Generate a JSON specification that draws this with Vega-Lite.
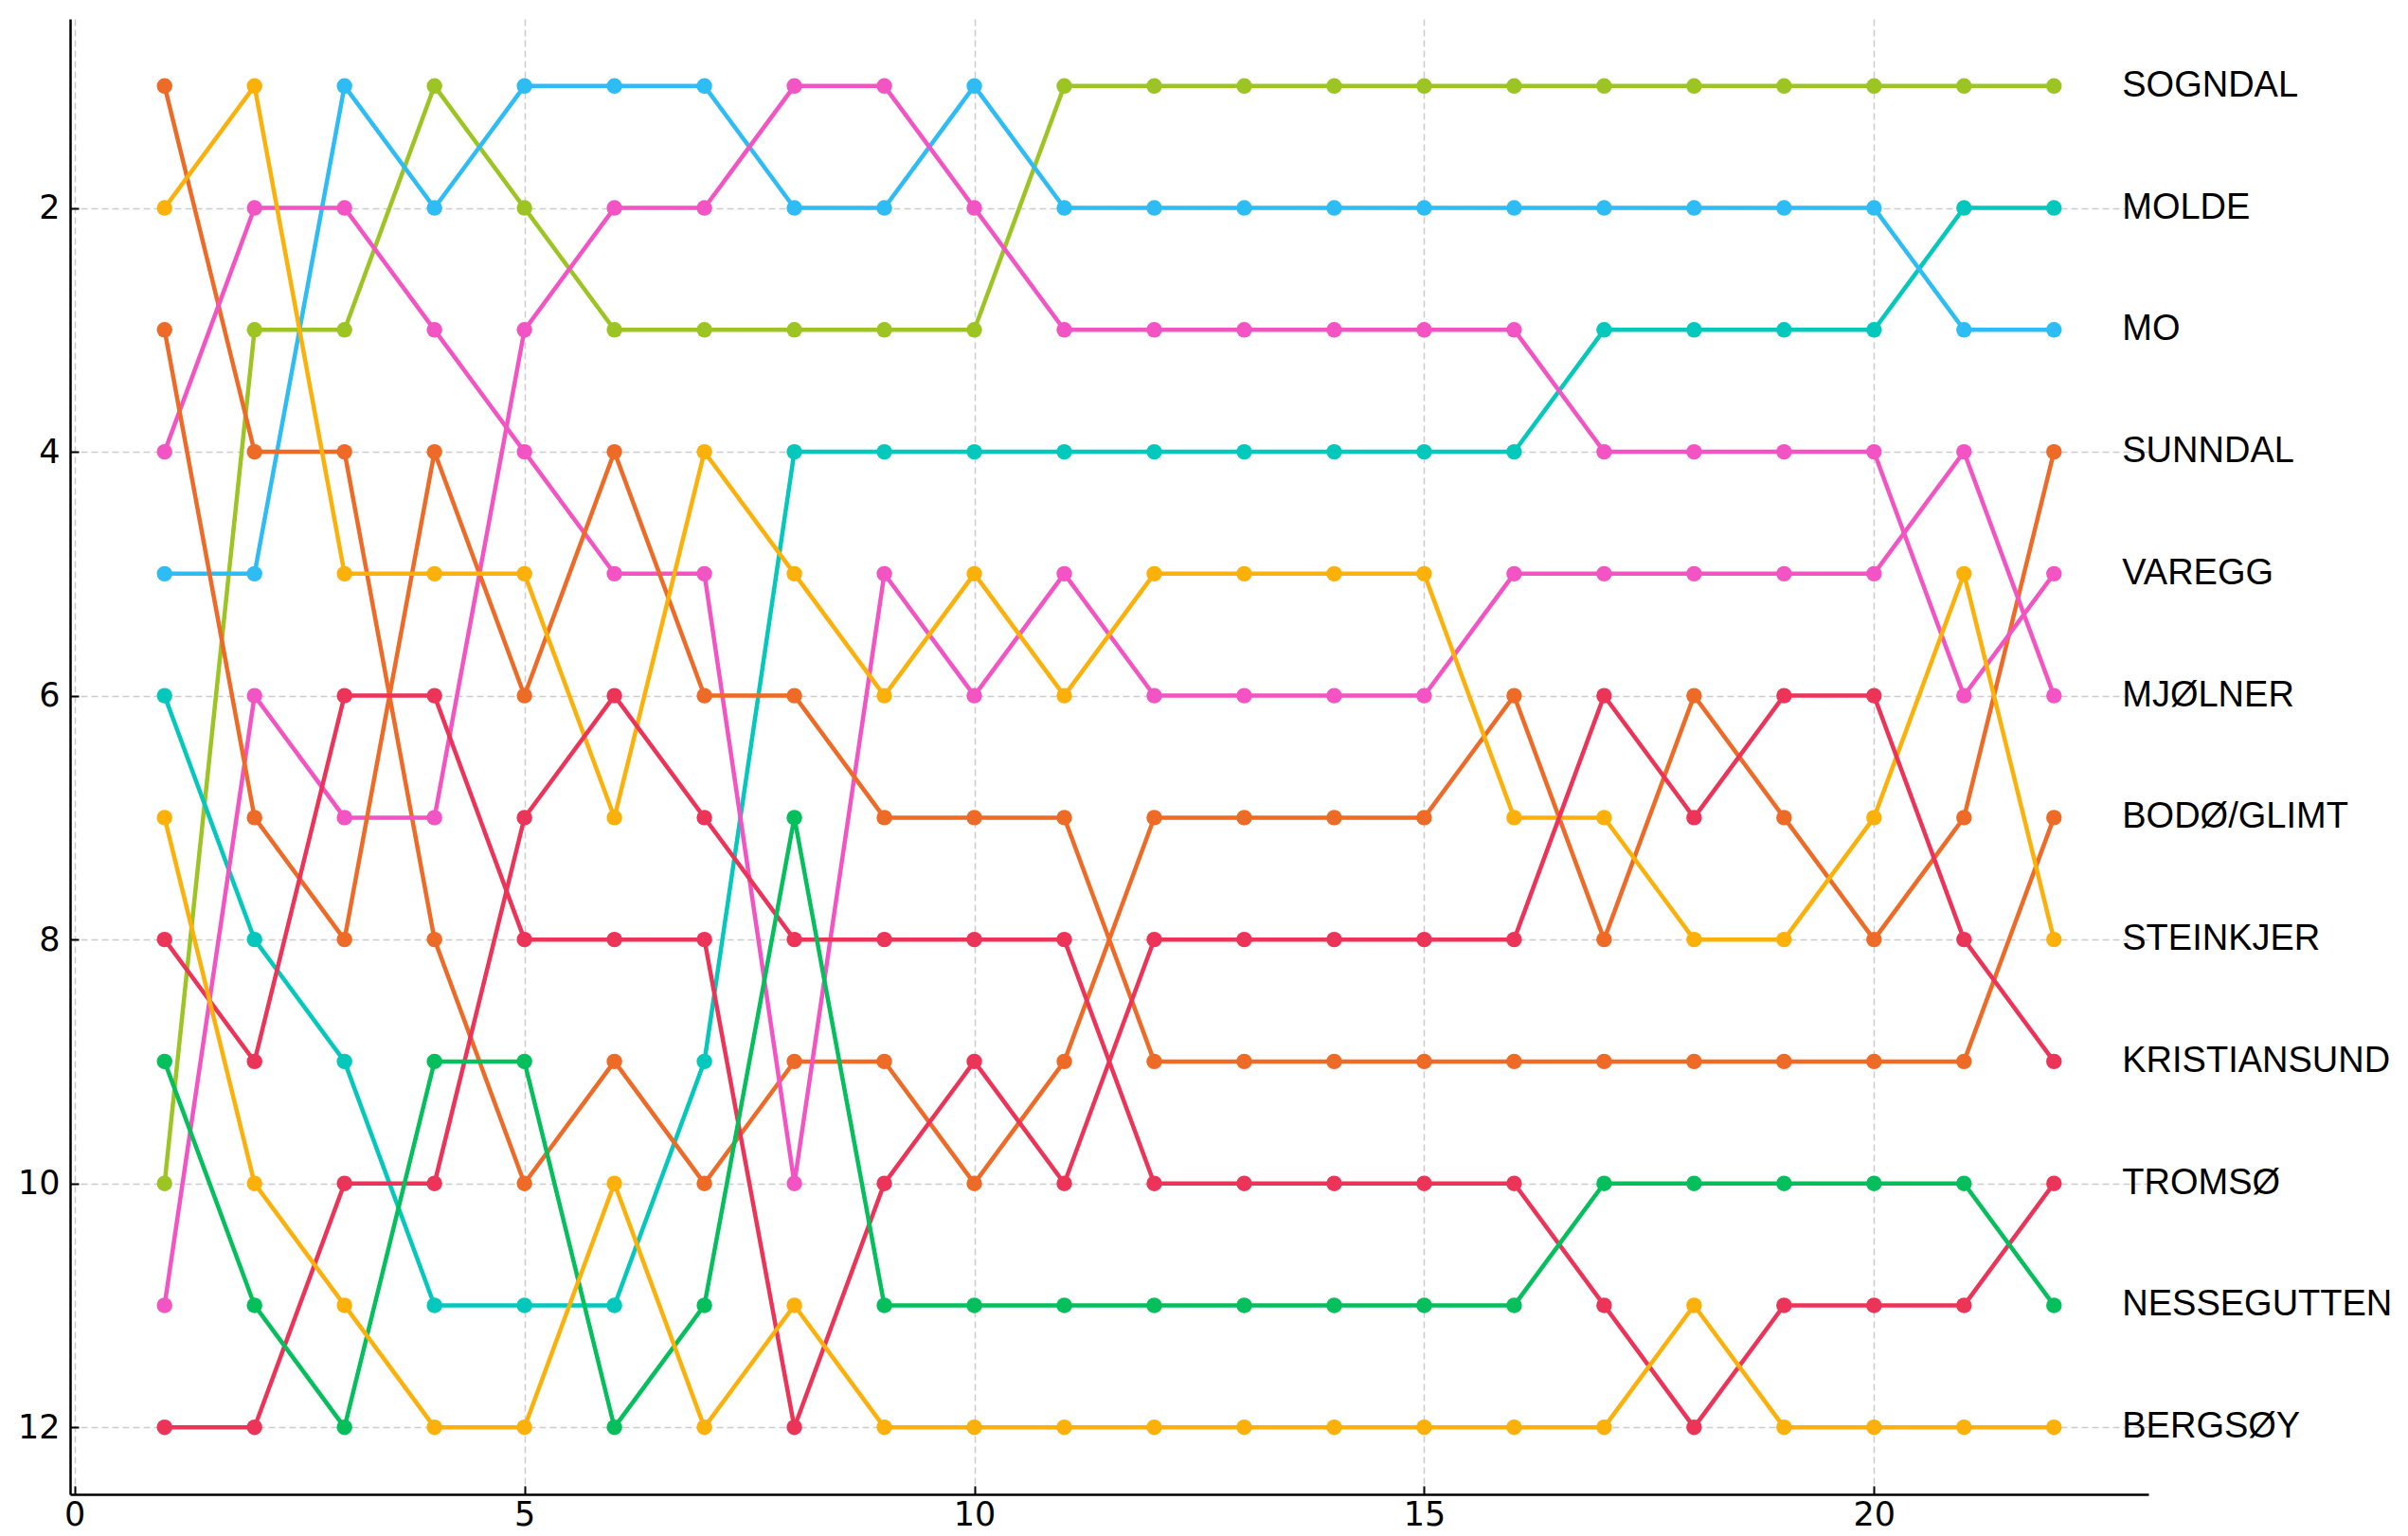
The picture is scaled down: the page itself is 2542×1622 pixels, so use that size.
{
  "$schema": "https://vega.github.io/schema/vega-lite/v6.json",
  "width": 2194,
  "height": 1558,
  "autosize": {"type": "none"},
  "padding": {"left": 74, "top": 20, "right": 274, "bottom": 44},
  "background": "white",
  "config": {"view": {"stroke": null}},
  "data": {
    "values": [
      {"team": "SOGNDAL", "round": 1, "rank": 10}, {"team": "SOGNDAL", "round": 2, "rank": 3}, {"team": "SOGNDAL", "round": 3, "rank": 3}, {"team": "SOGNDAL", "round": 4, "rank": 1}, {"team": "SOGNDAL", "round": 5, "rank": 2}, {"team": "SOGNDAL", "round": 6, "rank": 3}, {"team": "SOGNDAL", "round": 7, "rank": 3}, {"team": "SOGNDAL", "round": 8, "rank": 3}, {"team": "SOGNDAL", "round": 9, "rank": 3}, {"team": "SOGNDAL", "round": 10, "rank": 3}, {"team": "SOGNDAL", "round": 11, "rank": 1}, {"team": "SOGNDAL", "round": 12, "rank": 1}, {"team": "SOGNDAL", "round": 13, "rank": 1}, {"team": "SOGNDAL", "round": 14, "rank": 1}, {"team": "SOGNDAL", "round": 15, "rank": 1}, {"team": "SOGNDAL", "round": 16, "rank": 1}, {"team": "SOGNDAL", "round": 17, "rank": 1}, {"team": "SOGNDAL", "round": 18, "rank": 1}, {"team": "SOGNDAL", "round": 19, "rank": 1}, {"team": "SOGNDAL", "round": 20, "rank": 1}, {"team": "SOGNDAL", "round": 21, "rank": 1}, {"team": "SOGNDAL", "round": 22, "rank": 1},
      {"team": "MOLDE", "round": 1, "rank": 6}, {"team": "MOLDE", "round": 2, "rank": 8}, {"team": "MOLDE", "round": 3, "rank": 9}, {"team": "MOLDE", "round": 4, "rank": 11}, {"team": "MOLDE", "round": 5, "rank": 11}, {"team": "MOLDE", "round": 6, "rank": 11}, {"team": "MOLDE", "round": 7, "rank": 9}, {"team": "MOLDE", "round": 8, "rank": 4}, {"team": "MOLDE", "round": 9, "rank": 4}, {"team": "MOLDE", "round": 10, "rank": 4}, {"team": "MOLDE", "round": 11, "rank": 4}, {"team": "MOLDE", "round": 12, "rank": 4}, {"team": "MOLDE", "round": 13, "rank": 4}, {"team": "MOLDE", "round": 14, "rank": 4}, {"team": "MOLDE", "round": 15, "rank": 4}, {"team": "MOLDE", "round": 16, "rank": 4}, {"team": "MOLDE", "round": 17, "rank": 3}, {"team": "MOLDE", "round": 18, "rank": 3}, {"team": "MOLDE", "round": 19, "rank": 3}, {"team": "MOLDE", "round": 20, "rank": 3}, {"team": "MOLDE", "round": 21, "rank": 2}, {"team": "MOLDE", "round": 22, "rank": 2},
      {"team": "MO", "round": 1, "rank": 5}, {"team": "MO", "round": 2, "rank": 5}, {"team": "MO", "round": 3, "rank": 1}, {"team": "MO", "round": 4, "rank": 2}, {"team": "MO", "round": 5, "rank": 1}, {"team": "MO", "round": 6, "rank": 1}, {"team": "MO", "round": 7, "rank": 1}, {"team": "MO", "round": 8, "rank": 2}, {"team": "MO", "round": 9, "rank": 2}, {"team": "MO", "round": 10, "rank": 1}, {"team": "MO", "round": 11, "rank": 2}, {"team": "MO", "round": 12, "rank": 2}, {"team": "MO", "round": 13, "rank": 2}, {"team": "MO", "round": 14, "rank": 2}, {"team": "MO", "round": 15, "rank": 2}, {"team": "MO", "round": 16, "rank": 2}, {"team": "MO", "round": 17, "rank": 2}, {"team": "MO", "round": 18, "rank": 2}, {"team": "MO", "round": 19, "rank": 2}, {"team": "MO", "round": 20, "rank": 2}, {"team": "MO", "round": 21, "rank": 3}, {"team": "MO", "round": 22, "rank": 3},
      {"team": "SUNNDAL", "round": 1, "rank": 1}, {"team": "SUNNDAL", "round": 2, "rank": 4}, {"team": "SUNNDAL", "round": 3, "rank": 4}, {"team": "SUNNDAL", "round": 4, "rank": 8}, {"team": "SUNNDAL", "round": 5, "rank": 10}, {"team": "SUNNDAL", "round": 6, "rank": 9}, {"team": "SUNNDAL", "round": 7, "rank": 10}, {"team": "SUNNDAL", "round": 8, "rank": 9}, {"team": "SUNNDAL", "round": 9, "rank": 9}, {"team": "SUNNDAL", "round": 10, "rank": 10}, {"team": "SUNNDAL", "round": 11, "rank": 9}, {"team": "SUNNDAL", "round": 12, "rank": 7}, {"team": "SUNNDAL", "round": 13, "rank": 7}, {"team": "SUNNDAL", "round": 14, "rank": 7}, {"team": "SUNNDAL", "round": 15, "rank": 7}, {"team": "SUNNDAL", "round": 16, "rank": 6}, {"team": "SUNNDAL", "round": 17, "rank": 8}, {"team": "SUNNDAL", "round": 18, "rank": 6}, {"team": "SUNNDAL", "round": 19, "rank": 7}, {"team": "SUNNDAL", "round": 20, "rank": 8}, {"team": "SUNNDAL", "round": 21, "rank": 7}, {"team": "SUNNDAL", "round": 22, "rank": 4},
      {"team": "VAREGG", "round": 1, "rank": 11}, {"team": "VAREGG", "round": 2, "rank": 6}, {"team": "VAREGG", "round": 3, "rank": 7}, {"team": "VAREGG", "round": 4, "rank": 7}, {"team": "VAREGG", "round": 5, "rank": 3}, {"team": "VAREGG", "round": 6, "rank": 2}, {"team": "VAREGG", "round": 7, "rank": 2}, {"team": "VAREGG", "round": 8, "rank": 1}, {"team": "VAREGG", "round": 9, "rank": 1}, {"team": "VAREGG", "round": 10, "rank": 2}, {"team": "VAREGG", "round": 11, "rank": 3}, {"team": "VAREGG", "round": 12, "rank": 3}, {"team": "VAREGG", "round": 13, "rank": 3}, {"team": "VAREGG", "round": 14, "rank": 3}, {"team": "VAREGG", "round": 15, "rank": 3}, {"team": "VAREGG", "round": 16, "rank": 3}, {"team": "VAREGG", "round": 17, "rank": 4}, {"team": "VAREGG", "round": 18, "rank": 4}, {"team": "VAREGG", "round": 19, "rank": 4}, {"team": "VAREGG", "round": 20, "rank": 4}, {"team": "VAREGG", "round": 21, "rank": 6}, {"team": "VAREGG", "round": 22, "rank": 5},
      {"team": "MJØLNER", "round": 1, "rank": 4}, {"team": "MJØLNER", "round": 2, "rank": 2}, {"team": "MJØLNER", "round": 3, "rank": 2}, {"team": "MJØLNER", "round": 4, "rank": 3}, {"team": "MJØLNER", "round": 5, "rank": 4}, {"team": "MJØLNER", "round": 6, "rank": 5}, {"team": "MJØLNER", "round": 7, "rank": 5}, {"team": "MJØLNER", "round": 8, "rank": 10}, {"team": "MJØLNER", "round": 9, "rank": 5}, {"team": "MJØLNER", "round": 10, "rank": 6}, {"team": "MJØLNER", "round": 11, "rank": 5}, {"team": "MJØLNER", "round": 12, "rank": 6}, {"team": "MJØLNER", "round": 13, "rank": 6}, {"team": "MJØLNER", "round": 14, "rank": 6}, {"team": "MJØLNER", "round": 15, "rank": 6}, {"team": "MJØLNER", "round": 16, "rank": 5}, {"team": "MJØLNER", "round": 17, "rank": 5}, {"team": "MJØLNER", "round": 18, "rank": 5}, {"team": "MJØLNER", "round": 19, "rank": 5}, {"team": "MJØLNER", "round": 20, "rank": 5}, {"team": "MJØLNER", "round": 21, "rank": 4}, {"team": "MJØLNER", "round": 22, "rank": 6},
      {"team": "BODØ/GLIMT", "round": 1, "rank": 3}, {"team": "BODØ/GLIMT", "round": 2, "rank": 7}, {"team": "BODØ/GLIMT", "round": 3, "rank": 8}, {"team": "BODØ/GLIMT", "round": 4, "rank": 4}, {"team": "BODØ/GLIMT", "round": 5, "rank": 6}, {"team": "BODØ/GLIMT", "round": 6, "rank": 4}, {"team": "BODØ/GLIMT", "round": 7, "rank": 6}, {"team": "BODØ/GLIMT", "round": 8, "rank": 6}, {"team": "BODØ/GLIMT", "round": 9, "rank": 7}, {"team": "BODØ/GLIMT", "round": 10, "rank": 7}, {"team": "BODØ/GLIMT", "round": 11, "rank": 7}, {"team": "BODØ/GLIMT", "round": 12, "rank": 9}, {"team": "BODØ/GLIMT", "round": 13, "rank": 9}, {"team": "BODØ/GLIMT", "round": 14, "rank": 9}, {"team": "BODØ/GLIMT", "round": 15, "rank": 9}, {"team": "BODØ/GLIMT", "round": 16, "rank": 9}, {"team": "BODØ/GLIMT", "round": 17, "rank": 9}, {"team": "BODØ/GLIMT", "round": 18, "rank": 9}, {"team": "BODØ/GLIMT", "round": 19, "rank": 9}, {"team": "BODØ/GLIMT", "round": 20, "rank": 9}, {"team": "BODØ/GLIMT", "round": 21, "rank": 9}, {"team": "BODØ/GLIMT", "round": 22, "rank": 7},
      {"team": "STEINKJER", "round": 1, "rank": 2}, {"team": "STEINKJER", "round": 2, "rank": 1}, {"team": "STEINKJER", "round": 3, "rank": 5}, {"team": "STEINKJER", "round": 4, "rank": 5}, {"team": "STEINKJER", "round": 5, "rank": 5}, {"team": "STEINKJER", "round": 6, "rank": 7}, {"team": "STEINKJER", "round": 7, "rank": 4}, {"team": "STEINKJER", "round": 8, "rank": 5}, {"team": "STEINKJER", "round": 9, "rank": 6}, {"team": "STEINKJER", "round": 10, "rank": 5}, {"team": "STEINKJER", "round": 11, "rank": 6}, {"team": "STEINKJER", "round": 12, "rank": 5}, {"team": "STEINKJER", "round": 13, "rank": 5}, {"team": "STEINKJER", "round": 14, "rank": 5}, {"team": "STEINKJER", "round": 15, "rank": 5}, {"team": "STEINKJER", "round": 16, "rank": 7}, {"team": "STEINKJER", "round": 17, "rank": 7}, {"team": "STEINKJER", "round": 18, "rank": 8}, {"team": "STEINKJER", "round": 19, "rank": 8}, {"team": "STEINKJER", "round": 20, "rank": 7}, {"team": "STEINKJER", "round": 21, "rank": 5}, {"team": "STEINKJER", "round": 22, "rank": 8},
      {"team": "KRISTIANSUND", "round": 1, "rank": 8}, {"team": "KRISTIANSUND", "round": 2, "rank": 9}, {"team": "KRISTIANSUND", "round": 3, "rank": 6}, {"team": "KRISTIANSUND", "round": 4, "rank": 6}, {"team": "KRISTIANSUND", "round": 5, "rank": 8}, {"team": "KRISTIANSUND", "round": 6, "rank": 8}, {"team": "KRISTIANSUND", "round": 7, "rank": 8}, {"team": "KRISTIANSUND", "round": 8, "rank": 12}, {"team": "KRISTIANSUND", "round": 9, "rank": 10}, {"team": "KRISTIANSUND", "round": 10, "rank": 9}, {"team": "KRISTIANSUND", "round": 11, "rank": 10}, {"team": "KRISTIANSUND", "round": 12, "rank": 8}, {"team": "KRISTIANSUND", "round": 13, "rank": 8}, {"team": "KRISTIANSUND", "round": 14, "rank": 8}, {"team": "KRISTIANSUND", "round": 15, "rank": 8}, {"team": "KRISTIANSUND", "round": 16, "rank": 8}, {"team": "KRISTIANSUND", "round": 17, "rank": 6}, {"team": "KRISTIANSUND", "round": 18, "rank": 7}, {"team": "KRISTIANSUND", "round": 19, "rank": 6}, {"team": "KRISTIANSUND", "round": 20, "rank": 6}, {"team": "KRISTIANSUND", "round": 21, "rank": 8}, {"team": "KRISTIANSUND", "round": 22, "rank": 9},
      {"team": "TROMSØ", "round": 1, "rank": 12}, {"team": "TROMSØ", "round": 2, "rank": 12}, {"team": "TROMSØ", "round": 3, "rank": 10}, {"team": "TROMSØ", "round": 4, "rank": 10}, {"team": "TROMSØ", "round": 5, "rank": 7}, {"team": "TROMSØ", "round": 6, "rank": 6}, {"team": "TROMSØ", "round": 7, "rank": 7}, {"team": "TROMSØ", "round": 8, "rank": 8}, {"team": "TROMSØ", "round": 9, "rank": 8}, {"team": "TROMSØ", "round": 10, "rank": 8}, {"team": "TROMSØ", "round": 11, "rank": 8}, {"team": "TROMSØ", "round": 12, "rank": 10}, {"team": "TROMSØ", "round": 13, "rank": 10}, {"team": "TROMSØ", "round": 14, "rank": 10}, {"team": "TROMSØ", "round": 15, "rank": 10}, {"team": "TROMSØ", "round": 16, "rank": 10}, {"team": "TROMSØ", "round": 17, "rank": 11}, {"team": "TROMSØ", "round": 18, "rank": 12}, {"team": "TROMSØ", "round": 19, "rank": 11}, {"team": "TROMSØ", "round": 20, "rank": 11}, {"team": "TROMSØ", "round": 21, "rank": 11}, {"team": "TROMSØ", "round": 22, "rank": 10},
      {"team": "NESSEGUTTEN", "round": 1, "rank": 9}, {"team": "NESSEGUTTEN", "round": 2, "rank": 11}, {"team": "NESSEGUTTEN", "round": 3, "rank": 12}, {"team": "NESSEGUTTEN", "round": 4, "rank": 9}, {"team": "NESSEGUTTEN", "round": 5, "rank": 9}, {"team": "NESSEGUTTEN", "round": 6, "rank": 12}, {"team": "NESSEGUTTEN", "round": 7, "rank": 11}, {"team": "NESSEGUTTEN", "round": 8, "rank": 7}, {"team": "NESSEGUTTEN", "round": 9, "rank": 11}, {"team": "NESSEGUTTEN", "round": 10, "rank": 11}, {"team": "NESSEGUTTEN", "round": 11, "rank": 11}, {"team": "NESSEGUTTEN", "round": 12, "rank": 11}, {"team": "NESSEGUTTEN", "round": 13, "rank": 11}, {"team": "NESSEGUTTEN", "round": 14, "rank": 11}, {"team": "NESSEGUTTEN", "round": 15, "rank": 11}, {"team": "NESSEGUTTEN", "round": 16, "rank": 11}, {"team": "NESSEGUTTEN", "round": 17, "rank": 10}, {"team": "NESSEGUTTEN", "round": 18, "rank": 10}, {"team": "NESSEGUTTEN", "round": 19, "rank": 10}, {"team": "NESSEGUTTEN", "round": 20, "rank": 10}, {"team": "NESSEGUTTEN", "round": 21, "rank": 10}, {"team": "NESSEGUTTEN", "round": 22, "rank": 11},
      {"team": "BERGSØY", "round": 1, "rank": 7}, {"team": "BERGSØY", "round": 2, "rank": 10}, {"team": "BERGSØY", "round": 3, "rank": 11}, {"team": "BERGSØY", "round": 4, "rank": 12}, {"team": "BERGSØY", "round": 5, "rank": 12}, {"team": "BERGSØY", "round": 6, "rank": 10}, {"team": "BERGSØY", "round": 7, "rank": 12}, {"team": "BERGSØY", "round": 8, "rank": 11}, {"team": "BERGSØY", "round": 9, "rank": 12}, {"team": "BERGSØY", "round": 10, "rank": 12}, {"team": "BERGSØY", "round": 11, "rank": 12}, {"team": "BERGSØY", "round": 12, "rank": 12}, {"team": "BERGSØY", "round": 13, "rank": 12}, {"team": "BERGSØY", "round": 14, "rank": 12}, {"team": "BERGSØY", "round": 15, "rank": 12}, {"team": "BERGSØY", "round": 16, "rank": 12}, {"team": "BERGSØY", "round": 17, "rank": 12}, {"team": "BERGSØY", "round": 18, "rank": 11}, {"team": "BERGSØY", "round": 19, "rank": 12}, {"team": "BERGSØY", "round": 20, "rank": 12}, {"team": "BERGSØY", "round": 21, "rank": 12}, {"team": "BERGSØY", "round": 22, "rank": 12}
    ]
  },
  "encoding": {
    "x": {
      "field": "round",
      "type": "quantitative",
      "scale": {"domain": [-0.05, 23.05], "nice": false, "zero": false},
      "axis": {
        "title": null,
        "values": [0, 5, 10, 15, 20],
        "grid": true,
        "gridColor": "#cccccc",
        "gridDash": [7, 4],
        "gridWidth": 1.5,
        "domainColor": "#000000",
        "domainWidth": 2.5,
        "tickColor": "#000000",
        "tickWidth": 2,
        "tickSize": -9,
        "labelPadding": 13,
        "labelFont": "DejaVu Sans",
        "labelFontSize": 35,
        "labelColor": "#000000",
        "labelFlush": false
      }
    },
    "y": {
      "field": "rank",
      "type": "quantitative",
      "scale": {"domain": [0.45, 12.55], "reverse": true, "nice": false, "zero": false},
      "axis": {
        "title": null,
        "values": [2, 4, 6, 8, 10, 12],
        "grid": true,
        "gridColor": "#cccccc",
        "gridDash": [7, 4],
        "gridWidth": 1.5,
        "domainColor": "#000000",
        "domainWidth": 2.5,
        "tickColor": "#000000",
        "tickWidth": 2,
        "tickSize": -9,
        "labelPadding": 20,
        "labelFont": "DejaVu Sans",
        "labelFontSize": 35,
        "labelColor": "#000000"
      }
    }
  },
  "layer": [
    {
      "mark": {"type": "line", "strokeWidth": 4.5},
      "encoding": {
        "color": {
          "field": "team",
          "type": "nominal",
          "legend": null,
          "scale": {
            "domain": ["SOGNDAL", "MOLDE", "MO", "SUNNDAL", "VAREGG", "MJØLNER", "BODØ/GLIMT", "STEINKJER", "KRISTIANSUND", "TROMSØ", "NESSEGUTTEN", "BERGSØY"],
            "range": ["#9cc524", "#03c8bb", "#2ebcf5", "#ee6a27", "#f354c3", "#f354c3", "#ee6a27", "#fbb00a", "#ec3458", "#ec3458", "#04bf5c", "#fbb00a"]
          }
        },
        "detail": {"field": "team"}
      }
    },
    {
      "mark": {"type": "circle", "size": 270, "opacity": 1},
      "encoding": {
        "color": {"field": "team", "type": "nominal", "legend": null}
      }
    },
    {
      "transform": [{"filter": "datum.round == 22"}],
      "mark": {"type": "text", "align": "left", "baseline": "middle", "dx": 72, "font": "Liberation Sans", "fontSize": 38, "color": "#000000"},
      "encoding": {
        "text": {"field": "team"}
      }
    }
  ]
}
